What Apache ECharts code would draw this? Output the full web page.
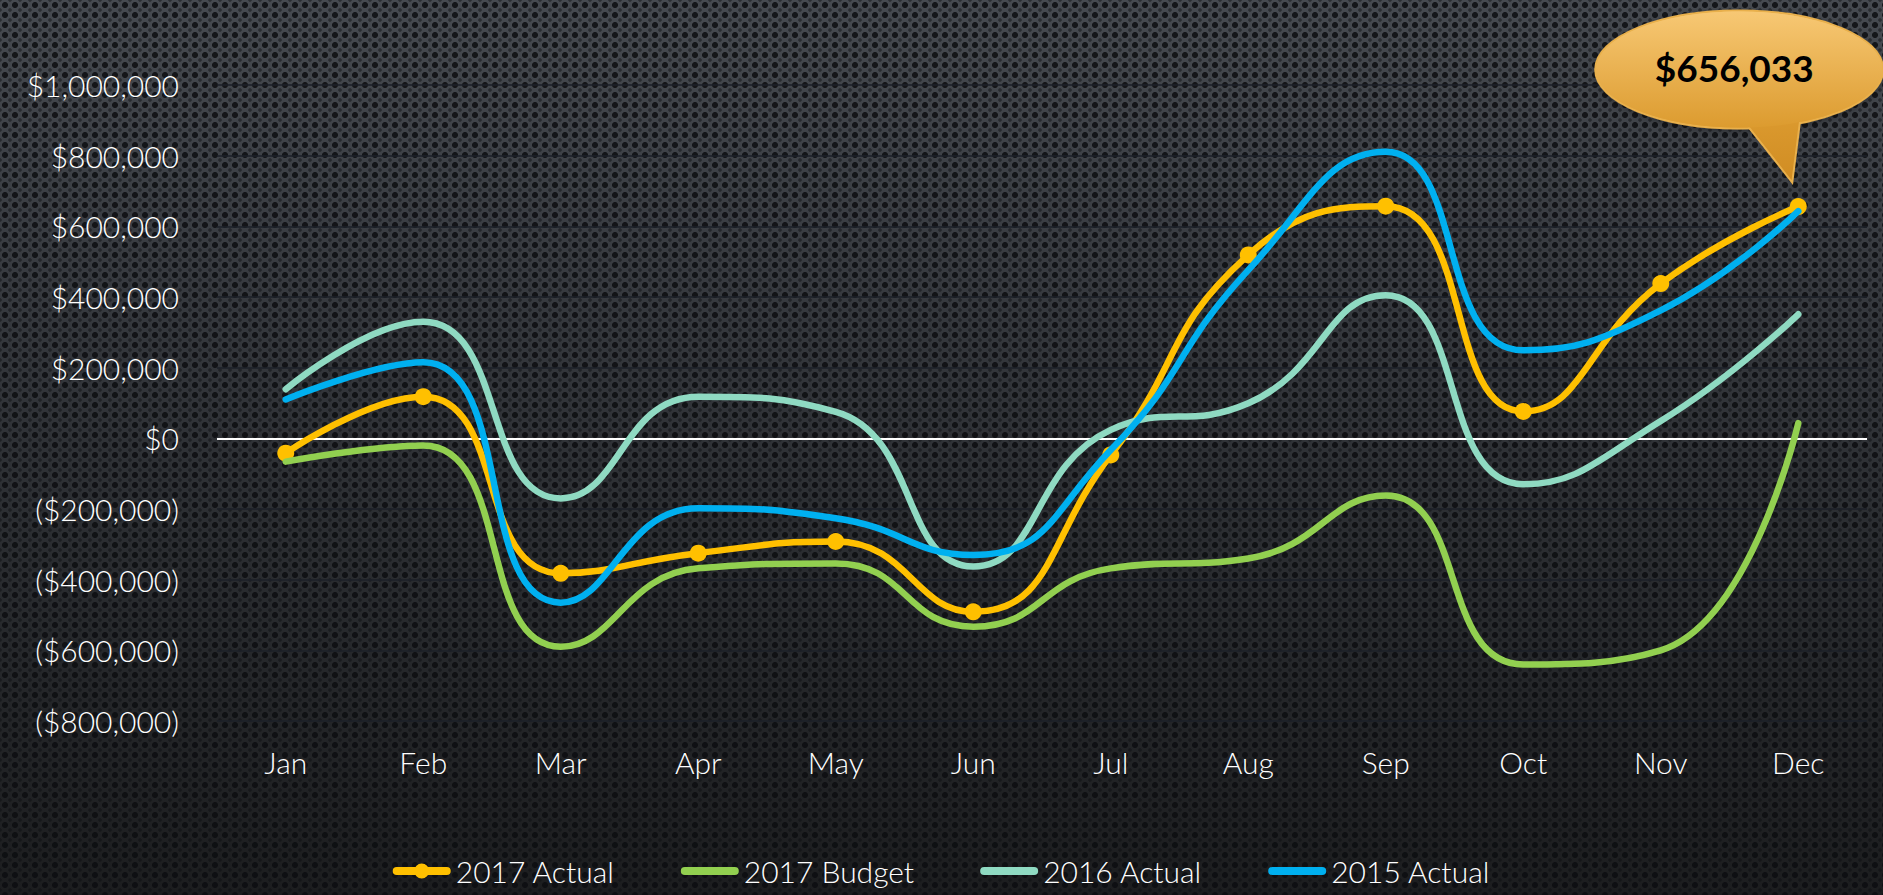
<!DOCTYPE html>
<html>
<head>
<meta charset="utf-8">
<script src="https://cdn.jsdelivr.net/npm/echarts@6/dist/echarts.min.js"></script>
<style>
html,body{margin:0;padding:0;width:1883px;height:895px;overflow:hidden;}
body{
  background:
    radial-gradient(circle at 50% 50%, rgba(12,13,16,0.85) 0, rgba(12,13,16,0.85) 2.6px, transparent 3.4px) 0 0/10px 10px,
    radial-gradient(circle at 50% 50%, rgba(12,13,16,0.45) 0, rgba(12,13,16,0.45) 1.4px, transparent 2.2px) 5px 5px/10px 10px,
    linear-gradient(180deg, #464a50 0%, #33363b 40%, #25272a 75%, #1c1d1f 100%);
}
#chart{width:1883px;height:895px;}
</style>
</head>
<body>
<div id="chart"></div>
<script>
const categories = ['Jan','Feb','Mar','Apr','May','Jun','Jul','Aug','Sep','Oct','Nov','Dec'];
const seriesNames = ['2017 Actual','2017 Budget','2016 Actual','2015 Actual'];
const actual2017 = [-42000, 118000, -382000, -325000, -292000, -491000, -47000, 519000, 657000, 76000, 438000, 656033];
const budget2017 = [-66000, -20000, -590000, -368000, -354000, -533000, -368000, -340000, -162000, -640000, -600000, 43000];
const actual2016 = [139000, 330000, -170000, 118000, 75000, -363000, 24000, 99000, 405000, -130000, 49000, 351000];
const actual2015 = [110000, 215000, -465000, -198000, -226000, -330000, -33000, 476000, 811000, 249000, 362000, 643000];
const yTicks = {min: -800000, max: 1000000, interval: 200000};
const calloutIndex = 11;

const colors = ['#FFC000', '#92D050', '#8FDAC2', '#00B0F0'];
const fontFam = 'Lato, "Open Sans", "DejaVu Sans", sans-serif';
const fontW = 300;

function fmt(v){
  const s = '$' + Math.abs(v).toLocaleString('en-US');
  return v < 0 ? '(' + s + ')' : s;
}

const barIcon = 'path://M4,0 L54,0 A4,4 0 0 1 54,8 L4,8 A4,4 0 0 1 4,0 Z';
const markerIcon = 'path://M4,5 L54,5 A4,4 0 0 1 54,13 L4,13 A4,4 0 0 1 4,5 Z M29,1.5 A7.5,7.5 0 1 1 29,16.5 A7.5,7.5 0 1 1 29,1.5 Z';

const chart = echarts.init(document.getElementById('chart'), null, {renderer:'svg'});
const seriesData = [actual2017, budget2017, actual2016, actual2015];

const option = {
  backgroundColor: 'transparent',
  animation: false,
  grid: {left: 217, right: 16, top: 85, bottom: 174, containLabel: false},
  xAxis: {
    type: 'category',
    data: categories,
    boundaryGap: true,
    axisLine: {show: false, onZero: false},
    axisTick: {show: false},
    axisLabel: {color: '#ffffff', fontSize: 30, fontFamily: fontFam, fontWeight: fontW, margin: 26},
    splitLine: {show: false}
  },
  yAxis: {
    type: 'value',
    min: yTicks.min, max: yTicks.max, interval: yTicks.interval,
    axisLine: {show: false},
    axisTick: {show: false},
    axisLabel: {color: '#ffffff', fontSize: 30, fontFamily: fontFam, fontWeight: fontW, margin: 38, formatter: fmt},
    splitLine: {show: true, lineStyle: {color: '#1c2028', width: 1.5}}
  },
  legend: {
    bottom: 4,
    left: 'center',
    itemWidth: 58,
    itemHeight: 18,
    itemGap: 66,
    symbolKeepAspect: true,
    textStyle: {color: '#ffffff', fontSize: 30, fontFamily: fontFam, fontWeight: fontW},
    data: seriesNames.map((n, i) => ({name: n, icon: i === 0 ? markerIcon : barIcon, itemStyle: {color: colors[i]}}))
  },
  series: seriesData.map((d, i) => ({
    name: seriesNames[i],
    type: 'line',
    data: d,
    smooth: 0.5,
    showSymbol: i === 0,
    symbol: i === 0 ? 'circle' : 'none',
    symbolSize: 17,
    itemStyle: {color: colors[i]},
    lineStyle: {color: colors[i], width: 6.5, cap: 'round'},
    z: 2 + i,
    markLine: i === 0 ? {
      silent: true, symbol: ['none','none'], label: {show: false},
      lineStyle: {color: '#ffffff', width: 2, type: 'solid'},
      data: [{yAxis: 0}], z: 1
    } : undefined
  }))
};
chart.setOption(option);

// Callout bubble anchored to the Dec 2017 Actual point via the chart's own scale
const pt = chart.convertToPixel({seriesIndex: 0}, [categories[calloutIndex], actual2017[calloutIndex]]);
const cx = pt[0] - 59, cy = pt[1] - 137, rx = 144, ry = 59;
const bubbleFill = new echarts.graphic.LinearGradient(0, 0, 0, 1, [
  {offset: 0, color: '#f7c874'}, {offset: 1, color: '#dc9b2f'}
]);
const tailFill = new echarts.graphic.LinearGradient(0, 0, 0, 1, [
  {offset: 0, color: '#dc9b30'}, {offset: 1, color: '#d08c22'}
]);
const tail = [[pt[0] - 58, pt[1] - 90], [pt[0] + 3, pt[1] - 95], [pt[0] - 6, pt[1] - 24]];
chart.setOption({
  graphic: [
    {type: 'ellipse', shape: {cx: cx, cy: cy, rx: rx, ry: ry}, z: 100,
     style: {fill: bubbleFill, stroke: '#e9b04c', lineWidth: 2, shadowBlur: 6, shadowColor: 'rgba(0,0,0,0.35)', shadowOffsetY: 2}},
    {type: 'polygon', shape: {points: tail}, z: 101,
     style: {fill: tailFill, stroke: '#e9b04c', lineWidth: 2}},
    {type: 'ellipse', shape: {cx: cx, cy: cy, rx: rx - 1, ry: ry - 1}, z: 102,
     style: {fill: bubbleFill}},
    {type: 'text', x: cx - 5, y: cy - 2, z: 103,
     style: {text: fmt(actual2017[calloutIndex]), fill: '#000000', font: 'bold 37px ' + fontFam, align: 'center', verticalAlign: 'middle'}}
  ]
});
</script>
</body>
</html>
